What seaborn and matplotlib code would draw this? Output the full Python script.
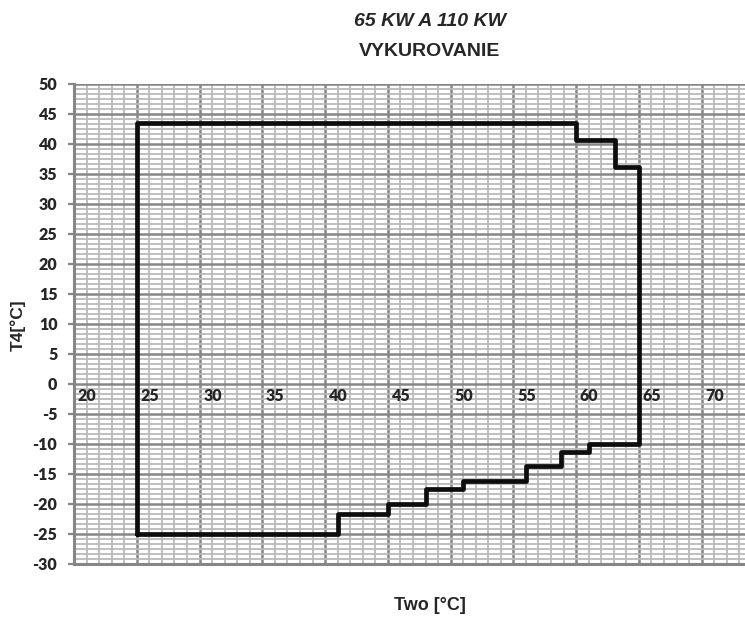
import numpy as np
import pandas as pd
import matplotlib
matplotlib.use("Agg")
import matplotlib.pyplot as plt
from matplotlib.ticker import MultipleLocator
import seaborn as sns

# operating envelope outline (Two [°C], T4 [°C])
two_vals = [25, 41, 41, 45, 45, 48, 48, 51, 51, 56, 56, 58.8, 58.8, 61, 61,
            65, 65, 63.1, 63.1, 60, 60, 25, 25]
t4_vals = [-25, -25, -21.6, -21.6, -20, -20, -17.5, -17.5, -16.2, -16.2, -13.7,
           -13.7, -11.4, -11.4, -10, -10, 36.2, 36.2, 40.7, 40.7, 43.5, 43.5, -25]

x_labels = [20, 25, 30, 35, 40, 45, 50, 55, 60, 65, 70]
y_ticks = list(range(-30, 51, 5))

sns.set_theme(style="white")
plt.rcParams["font.family"] = ["Liberation Sans", "DejaVu Sans"]

df = pd.DataFrame({"Two": two_vals, "T4": t4_vals})

fig = plt.figure(figsize=(7.45, 6.19), dpi=100)
ax = fig.add_axes([74 / 745, 55 / 619, 671 / 745, 480 / 619])

ax.set_xlim(20, 73.45)
ax.set_ylim(-30, 50)
ax.xaxis.set_major_locator(MultipleLocator(5))
ax.xaxis.set_minor_locator(MultipleLocator(1))
ax.yaxis.set_major_locator(MultipleLocator(5))
ax.yaxis.set_minor_locator(MultipleLocator(5 / 6))
ax.grid(True, which="minor", color="#bababa", lw=1.3)
ax.grid(True, which="major", color="#868686", lw=1.8)
ax.set_axisbelow(True)

sns.lineplot(data=df, x="Two", y="T4", sort=False, estimator=None,
             color="#0d0d0d", lw=3.4, ax=ax, zorder=5)

for s in ["top", "right"]:
    ax.spines[s].set_visible(False)
for s in ["left", "bottom"]:
    ax.spines[s].set_color("#868686")
    ax.spines[s].set_linewidth(2.2)

tick_font = dict(fontfamily="Lato", fontweight="heavy", fontsize=11.5)
ax.set_yticks(y_ticks)
ax.set_yticklabels([str(v) for v in y_ticks], **tick_font)
ax.tick_params(axis="y", which="major", left=True, length=4, width=1.6,
               color="#868686", pad=8)
ax.tick_params(axis="y", which="minor", left=False)
ax.tick_params(axis="x", which="both", bottom=False, labelbottom=False)

for v in x_labels:
    ax.text(v + 0.3, -0.6, str(v), ha="left", va="top", zorder=6, **tick_font)

ax.set_xlabel("")
ax.set_ylabel("")
fig.text(430 / 745, 1 - 22 / 619, "65 KW A 110 KW", ha="center", va="center",
         fontsize=14, fontweight="bold", fontstyle="italic")
fig.text(430 / 745, 1 - 51 / 619, "VYKUROVANIE", ha="center", va="center",
         fontsize=14, fontweight="bold")
fig.text(430 / 745, 1 - 605 / 619, "Two [°C]", ha="center", va="center",
         fontsize=13, fontweight="bold")
fig.text(18 / 745, 1 - 325 / 619, "T4[°C]", ha="center", va="center",
         rotation=90, fontsize=12.5, fontweight="bold")

fig.savefig("out.png", dpi=100)
